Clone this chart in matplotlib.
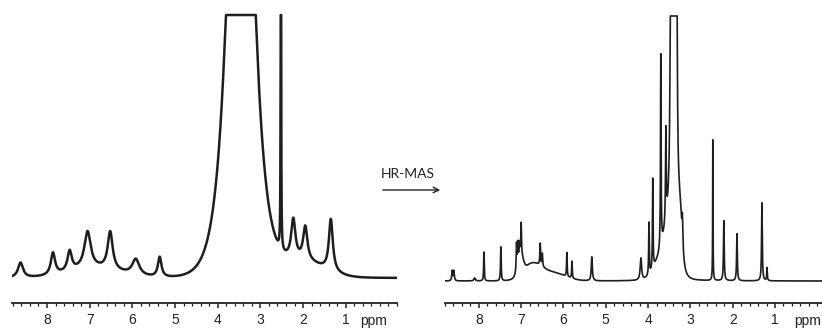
import numpy as np
import matplotlib
matplotlib.use('Agg')
import matplotlib.pyplot as plt
from matplotlib.ticker import MultipleLocator
import matplotlib.transforms as mtransforms

# ---- data: peak lists (ppm, height, half width) ----
# left: conventional 1H spectrum (broad lines)
left_lor_pos = [8.62, 7.86, 7.47, 7.05, 6.52, 5.92, 5.36, 2.52, 2.23, 1.95, 1.35]
left_lor_h   = [15,   22,   20,   37,   38,   16,   20,   900,  40,   34,   52]
left_lor_w   = [0.07, 0.06, 0.06, 0.09, 0.07, 0.10, 0.05, 0.004, 0.06, 0.06, 0.055]
left_gau_pos = [6.9, 2.0]
left_gau_h   = [9,   15]
left_gau_s   = [0.6, 0.5]
# broad water signal (sech profile: centre, height, decay)
left_sech_pos = [3.46]
left_sech_h   = [670]
left_sech_t   = [0.22]

# right: HR-MAS spectrum (sharp lines)
right_lor_pos = [8.63, 8.59, 8.10, 7.88, 7.48, 7.11, 7.08, 7.04, 7.00, 6.55, 6.50, 5.92, 5.80,
                 5.33, 4.17, 3.98, 3.89, 3.70, 3.58, 3.46, 3.42, 3.37, 3.33, 3.19,
                 2.47, 2.21, 1.90, 1.31, 1.19]
right_lor_h   = [10, 10, 3, 29, 34, 26, 20, 12, 30, 22, 13, 24, 17,
                 24, 22, 52, 90, 193, 92, 400, 400, 400, 400, 25,
                 141, 60, 47, 78, 13]
right_lor_w   = [0.012, 0.012, 0.02, 0.008, 0.009, 0.009, 0.009, 0.009, 0.008, 0.01, 0.01, 0.008, 0.008,
                 0.015, 0.02, 0.008, 0.008, 0.008, 0.01, 0.015, 0.015, 0.015, 0.015, 0.01,
                 0.005, 0.01, 0.01, 0.01, 0.008]
right_gau_pos = [7.02, 6.75, 6.25, 3.45, 3.75, 3.25]
right_gau_h   = [20,   16,   8,    60,   15,   40]
right_gau_s   = [0.06, 0.22, 0.3,  0.15, 0.15, 0.05]

major_ticks = [1, 2, 3, 4, 5, 6, 7, 8]


def spectrum(x, cap, lor, gau, sech=([], [], [])):
    y = np.zeros_like(x)
    for p, h, w in zip(*lor):
        y += h * w**2 / ((x - p)**2 + w**2)
    for p, h, s in zip(*gau):
        y += h * np.exp(-(x - p)**2 / (2 * s**2))
    for p, h, t in zip(*sech):
        y += h / np.cosh((x - p) / t)
    return np.minimum(y, cap)


W, H = 822, 329
fig = plt.figure(figsize=(W / 100, H / 100), dpi=100)


def panel(left_px, right_px, xlim, base_px, cap_px, y, lw, ppm_x):
    bottom_px, top_px = 303, 12
    ax = fig.add_axes([left_px / W, (H - bottom_px) / H,
                       (right_px - left_px) / W, (bottom_px - top_px) / H])
    x = np.linspace(xlim[0], xlim[1], 14000)
    ax.plot(x, y(x, base_px - cap_px), color='#1e1e1e', lw=lw, solid_joinstyle='round')
    ax.set_xlim(*xlim)
    ax.set_ylim(-(bottom_px - base_px), base_px - top_px)
    for s in ['top', 'left', 'right']:
        ax.spines[s].set_visible(False)
    ax.spines['bottom'].set_linewidth(1.3)
    ax.spines['bottom'].set_color('#222222')
    ax.set_yticks([])
    ax.set_xticks(major_ticks)
    ax.xaxis.set_minor_locator(MultipleLocator(0.2))
    ax.tick_params(axis='x', which='major', direction='out', length=3.5, width=1.1,
                   labelsize=10, pad=4, colors='#222222')
    ax.tick_params(axis='x', which='minor', direction='out', length=2.2, width=0.9,
                   colors='#222222')
    for lab in ax.get_xticklabels():
        lab.set_fontfamily('Liberation Sans')
    tr = mtransforms.blended_transform_factory(ax.transData, ax.transAxes)
    ax.text(ppm_x, -(321 - bottom_px) / (bottom_px - top_px), 'ppm', transform=tr,
            ha='center', va='center', fontsize=10, family='Liberation Sans', color='#222222')
    return ax


panel(12, 397, (8.82, -0.2), 278, 15,
      lambda x, cap: spectrum(x, cap, (left_lor_pos, left_lor_h, left_lor_w),
                              (left_gau_pos, left_gau_h, left_gau_s),
                              (left_sech_pos, left_sech_h, left_sech_t)),
      1.8, 0.34)
panel(445, 822, (8.80, -0.11), 281, 16,
      lambda x, cap: spectrum(x, cap, (right_lor_pos, right_lor_h, right_lor_w),
                              (right_gau_pos, right_gau_h, right_gau_s)),
      1.2, 0.24)

# arrow between the two spectra
fig.text(408 / W, 1 - 174 / H, 'HR-MAS', ha='center', va='center', fontsize=10,
         family='Lato', color='#222222')
fig.patches.append(matplotlib.patches.FancyArrowPatch(
    (380 / W, 1 - 190 / H), (443 / W, 1 - 190 / H), transform=fig.transFigure,
    arrowstyle='->', mutation_scale=10, lw=1.0, color='#222222'))

fig.savefig('out.png', dpi=100)
